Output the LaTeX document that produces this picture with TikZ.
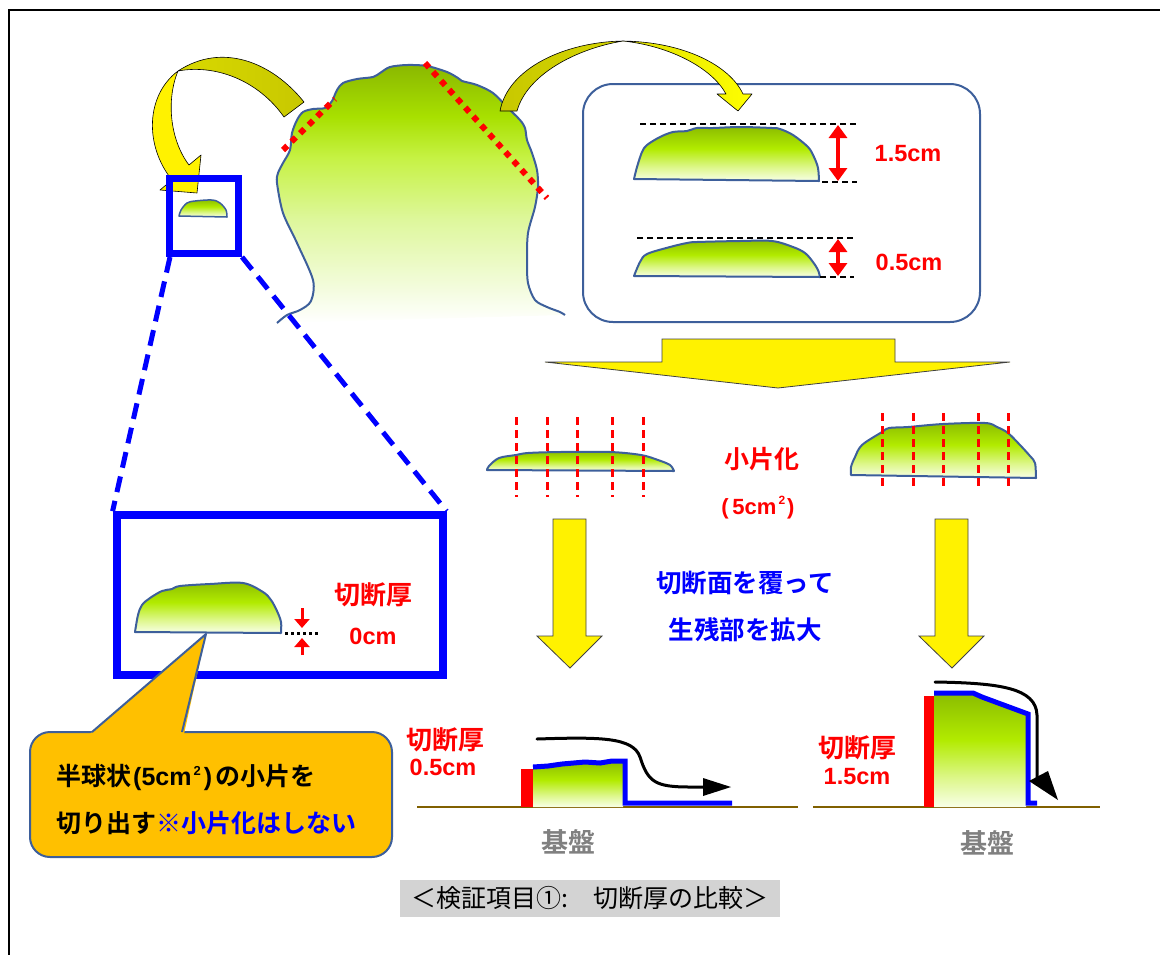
\documentclass[tikz,border=0pt]{standalone}
\usepackage{fontspec}
\usetikzlibrary{arrows.meta}
\newfontfamily\jpb{Noto Sans CJK JP Bold}
\newfontfamily\jpr{Noto Sans CJK JP}
\newfontfamily\latb{Liberation Sans Bold}

\definecolor{outl}{HTML}{3D5F9B}
\definecolor{arrowolive}{HTML}{C8C800}
\definecolor{callfill}{HTML}{FFC000}
\definecolor{ground}{HTML}{806000}
\definecolor{capgray}{HTML}{D3D3D3}
\definecolor{pureblue}{HTML}{0000FF}
\definecolor{basegray}{HTML}{808080}
\definecolor{gtop}{HTML}{8CBE00}
\definecolor{gmid}{HTML}{B2EB00}
\definecolor{gpale}{HTML}{DDF78A}
\definecolor{gbot}{HTML}{F8FFE8}
\definecolor{cabA}{HTML}{8AB800}
\definecolor{cabB}{HTML}{A8E000}
\definecolor{cabC}{HTML}{C6F244}
\definecolor{cabD}{HTML}{DEF79C}
\definecolor{cabE}{HTML}{F3FCDC}

% vertical green fades (the path fills the 25bp..75bp band)
\pgfdeclareverticalshading{slab}{100bp}{color(0bp)=(gbot); color(25bp)=(gbot); color(38bp)=(gpale); color(55bp)=(gmid); color(75bp)=(gtop); color(100bp)=(gtop)}
\pgfdeclareverticalshading{cabbage}{100bp}{color(0bp)=(white); color(25bp)=(white); color(32bp)=(cabE); color(45bp)=(cabD); color(57bp)=(cabC); color(65bp)=(cabB); color(75bp)=(cabA); color(100bp)=(cabA)}

\tikzset{
  slabbody/.style={shading=slab, draw=outl, line width=2, line join=round},
  redlbl/.style={text=red, font=\jpb\fontsize{26}{30}\selectfont, inner sep=0},
  bluelbl/.style={text=pureblue, font=\jpb\fontsize{25.5}{30}\selectfont, inner sep=0},
  graylbl/.style={text=basegray, font=\jpb\fontsize{27}{30}\selectfont, inner sep=0},
  latlbl/.style={text=red, font=\latb\fontsize{23.5}{27}\selectfont, inner sep=0},
  reddash/.style={red, line width=3, dash pattern=on 8pt off 5pt},
  reddots/.style={red, line width=6, dash pattern=on 6pt off 6pt},
  blackdash/.style={black, line width=1.5, dash pattern=on 6pt off 4pt},
  reddim/.style={red, line width=4.5, {Triangle[length=13pt,width=18pt]}-{Triangle[length=13pt,width=18pt]}},
  smallred/.style={red, line width=3, -{Triangle[length=9pt,width=15pt]}},
  blockarrow/.style={fill=yellow, draw=black!75, line width=0.8, line join=miter},
  ribbon/.style={draw=black, line width=0.6, line join=round},
  bluecut/.style={pureblue, line width=5, line join=miter},
  groundline/.style={ground, line width=2.5},
  blackflow/.style={black, line width=3, line cap=round},
}

\begin{document}
\begin{tikzpicture}[x=1pt,y=-1pt]
\useasboundingbox (0,0) rectangle (1160,954);

% page frame
\draw[line width=1.8] (9,980) -- (9,10) -- (1180,10);

% ---------- whole plant ----------
\path[shading=cabbage] plot[smooth, tension=0.5] coordinates {
 (277,323) (287,315) (300,310) (311,301) (313,280) (297,243) (283,213) (277,183)
 (278,173) (283,163) (290,150) (292,133) (297,120) (303,112) (313,109) (325,108)
 (332,101) (337,90) (343,83) (357,79) (373,77) (380,73) (390,67) (407,65) (427,66)
 (447,72) (458,78) (462,81) (477,85) (493,93) (507,107) (520,120) (525,128) (527,140)
 (532,153) (537,170) (538,187) (535,207) (528,233) (527,260) (528,283) (535,300)
 (547,307) (560,312) (565,315)} -- cycle;
\draw[outl, line width=2] plot[smooth, tension=0.5] coordinates {
 (277,323) (287,315) (300,310) (311,301) (313,280) (297,243) (283,213) (277,183)
 (278,173) (283,163) (290,150) (292,133) (297,120) (303,112) (313,109) (325,108)
 (332,101) (337,90) (343,83) (357,79) (373,77) (380,73) (390,67) (407,65) (427,66)
 (447,72) (458,78) (462,81) (477,85) (493,93) (507,107) (520,120) (525,128) (527,140)
 (532,153) (537,170) (538,187) (535,207) (528,233) (527,260) (528,283) (535,300)
 (547,307) (560,312) (565,315)};

% cutting lines on the plant
\draw[reddots] (283,150) -- (335,99);
\draw[reddots] (425,63) -- (547,198);

% ---------- panel with the two cut thicknesses ----------
\node[draw=outl, line width=2, rounded corners=30, minimum width=397, minimum height=238, inner sep=0] (thickbox) at (781.5,203) {};

\draw[slabbody] plot[smooth, tension=0.55] coordinates {(819,181) (818,168) (814,157) (808,147) (793,135) (780,129) (772,128) (740,127) (713,128) (697,128) (687,131) (673,132) (660,137) (647,145) (642,152) (637,167) (634,179)} -- cycle;
\draw[slabbody] plot[smooth, tension=0.55] coordinates {(820,277) (818,270) (813,262) (805,253) (793,247) (772,241) (740,241) (697,242) (687,243) (670,247) (647,254) (640,262) (634,276)} -- cycle;

\draw[blackdash] (640,124) -- (857,124);
\draw[blackdash] (822,182) -- (857,182);
\draw[blackdash] (637,238) -- (854,238);
\draw[blackdash] (820,277) -- (854,277);
\draw[reddim] (838,125) -- (838,181);
\draw[reddim] (838,239) -- (838,276);
\node[latlbl] (lblthick) at (908,154) {1.5cm};
\node[latlbl] (lblthin) at (909,262) {0.5cm};

% ---------- curved arrows ----------
\path[ribbon, left color=arrowolive, right color=arrowolive!75!yellow]
  (500,111) .. controls (508,68) and (565,42) .. (623,41)
  .. controls (575,49) and (527,75) .. (517,111) -- cycle;
\path[ribbon, left color=arrowolive!55!yellow, right color=yellow]
  (623,41) .. controls (685,42) and (730,66) .. (743,94) -- (752,94) -- (738,111)
  -- (717,94) -- (726,94) .. controls (712,68) and (670,46) .. (623,41) -- cycle;

\path[ribbon, left color=arrowolive!70!yellow, right color=arrowolive]
  (304,102) .. controls (272,62) and (222,42) .. (178,71)
  .. controls (215,64) and (258,80) .. (284,117) -- cycle;
\path[ribbon, fill=yellow]
  (178,71) .. controls (146,95) and (144,145) .. (172,180) -- (160,190) -- (197,193)
  -- (201,155) -- (189,165) .. controls (170,140) and (166,100) .. (178,71) -- cycle;

% ---------- sampled piece and its enlargement ----------
\node[draw=pureblue, line width=7, minimum width=69, minimum height=75, inner sep=0] (zoomsrc) at (204,216) {};
\draw[slabbody, line width=1.5] plot[smooth, tension=0.55] coordinates {(227,217) (226,210) (220,203) (212,200) (195,201) (187,203) (181,210) (179,216)} -- cycle;

\node[draw=pureblue, line width=8, minimum width=326, minimum height=160, inner sep=0] (zoomdst) at (279.6,595.2) {};
\draw[pureblue, line width=5, dash pattern=on 16pt off 9pt] (zoomsrc.south west) ++(4,0) -- (zoomdst.north west);
\draw[pureblue, line width=5, dash pattern=on 16pt off 9pt] (zoomsrc.south east) -- (zoomdst.north east);

\draw[slabbody] plot[smooth, tension=0.55] coordinates {(281,633) (281,622) (277,611) (271,600) (263,592) (243,583) (210,584) (180,586) (172,589) (162,591) (150,598) (142,605) (138,615) (135,632)} -- cycle;
\draw[line width=3, dash pattern=on 3pt off 3pt] (285,633) -- (319,633);
\draw[smallred] (302,608) -- (302,628);
\draw[smallred] (302,655) -- (302,638);
\node[redlbl] (cutzero) at (373,595) {切断厚};
\node[latlbl] (cutzeroval) at (373,636) {0cm};

% callout
\draw[draw=outl, line width=2, fill=callfill, rounded corners=20] (30,732) rectangle (392,857);
\fill[callfill] (90,734) -- (206,634) -- (184,734) -- cycle;
\draw[outl, line width=2, line join=round] (92,732) -- (206,634) -- (182,732);
\node[anchor=west, inner sep=0, font=\jpb\fontsize{25}{30}\selectfont] (calltxtA) at (56,777)
  {半球状{\latb\hspace{2pt}(5cm\hspace{2pt}\raisebox{10pt}{\fontsize{13}{13}\selectfont 2}\hspace{3pt})\hspace{3pt}}の小片を};
\node[anchor=west, inner sep=0, font=\jpb\fontsize{25}{30}\selectfont] (calltxtB) at (56,823)
  {切り出す{\color{pureblue}※小片化はしない}};

% ---------- cutting into pieces ----------
\path[blockarrow] (662,339) -- (895,339) -- (895,362) -- (1010,362) -- (778,388) -- (545,362) -- (662,362) -- cycle;

\draw[slabbody] plot[smooth, tension=0.55] coordinates {(674,471) (670,465) (658,460) (641,455) (610,452) (560,452) (528,453) (516,455) (499,458) (489,466) (487,470)} -- cycle;
\foreach \x in {516,547,577,612,643} \draw[reddash] (\x,417) -- (\x,497);

\draw[slabbody] plot[smooth, tension=0.55] coordinates {(1036,478) (1035,463) (1030,456) (1020,445) (1008,433) (997,427) (985,423) (943,424) (908,427) (889,428) (882,432) (862,445) (855,457) (851,467) (851,475)} -- cycle;
\foreach \x in {882,913,943,978,1008} \draw[reddash] (\x,413) -- (\x,490);

\node[redlbl, font=\jpb\fontsize{25}{28}\selectfont] (frag) at (762,459) {小片化};
\node[latlbl, font=\latb\fontsize{22}{26}\selectfont] (fragsize) at (758,508) {(\,5cm\hspace{2pt}\raisebox{10pt}{\fontsize{12}{12}\selectfont 2}\hspace{2pt})};

\path[blockarrow] (553,519) -- (586,519) -- (586,636) -- (602,636) -- (570,668) -- (537,636) -- (553,636) -- cycle;
\path[blockarrow] (935,519) -- (968,519) -- (968,636) -- (984,636) -- (952,668) -- (919,636) -- (935,636) -- cycle;

\node[bluelbl] (coverA) at (745,583) {切断面を覆って};
\node[bluelbl] (coverB) at (745,630) {生残部を拡大};

% ---------- regrowth, 0.5 cm cut ----------
\draw[groundline] (417,807) -- (798,807);
\path[shading=slab] (533,807) -- (533,768) -- (560,766) -- (585,763) -- (600,764) -- (612,762) -- (623,762) -- (623,807) -- cycle;
\fill[red] (521,769) rectangle (533,807);
\draw[bluecut] (533,767) -- (548,766) -- (562,764) -- (585,762) -- (600,763) -- (612,761) -- (625,761) -- (625,803) -- (732,803);
\draw[blackflow] (537,739) .. controls (600,737) and (633,737) .. (640,757)
  .. controls (648,782) and (655,787) .. (690,787) -- (705,787);
\fill (703,778) -- (731,787) -- (703,796) -- cycle;
\node[redlbl] (cutA) at (445,740) {切断厚};
\node[latlbl] (cutAval) at (443,767) {0.5cm};
\node[graylbl] (baseA) at (568,842) {基盤};

% ---------- regrowth, 1.5 cm cut ----------
\draw[groundline] (813,807) -- (1100,807);
\path[shading=slab] (934,807) -- (934,695) -- (973,695) -- (981,698) -- (1026,714) -- (1026,807) -- cycle;
\fill[red] (924,696) rectangle (934,807);
\draw[bluecut] (934,693) -- (973,693) -- (982,697) -- (1028,714) -- (1028,803) -- (1037,803);
\draw[blackflow] (935,682) .. controls (1000,683) and (1036,688) .. (1037,715) -- (1037,778);
\fill (1029,781) -- (1048,771) -- (1058,800) -- cycle;
\node[redlbl] (cutB) at (857,748) {切断厚};
\node[latlbl] (cutBval) at (857,777) {1.5cm};
\node[graylbl] (baseB) at (987,843) {基盤};

% ---------- caption ----------
\node[fill=capgray, minimum width=380, minimum height=37, inner sep=0, font=\jpr\fontsize{25}{28}\selectfont] (caption) at (590,898.5) {＜検証項目①:　切断厚の比較＞};
\end{tikzpicture}
\end{document}
